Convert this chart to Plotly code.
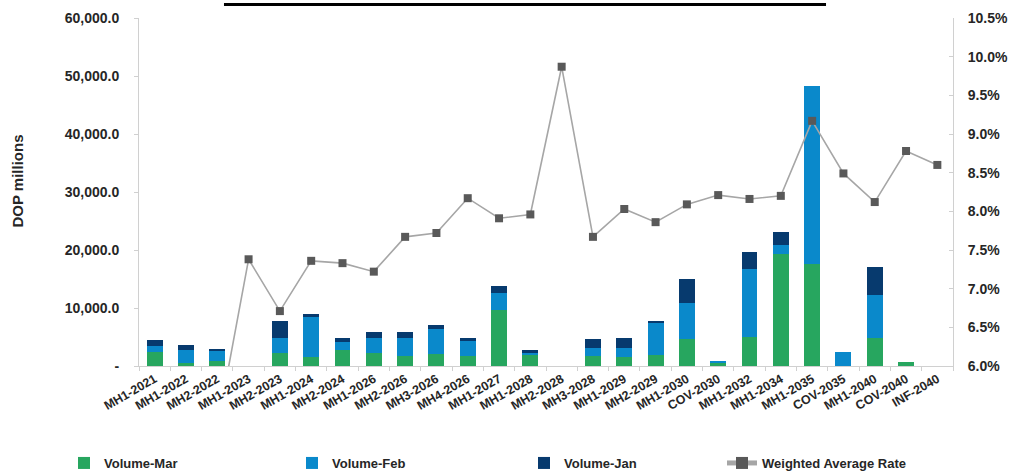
import plotly.graph_objects as go

categories = ["MH1-2021", "MH1-2022", "MH2-2022", "MH1-2023", "MH2-2023", "MH1-2024",
              "MH2-2024", "MH1-2026", "MH2-2026", "MH3-2026", "MH4-2026", "MH1-2027",
              "MH1-2028", "MH2-2028", "MH3-2028", "MH1-2029", "MH2-2029", "MH1-2030",
              "COV-2030", "MH1-2032", "MH1-2034", "MH1-2035", "COV-2035", "MH1-2040",
              "COV-2040", "INF-2040"]

volume_mar = [2400, 600, 900, 0, 2300, 1500, 2760, 2300, 1780, 2130, 1670, 9650, 2010, 0,
              1720, 1490, 1950, 4660, 570, 5060, 19310, 17590, 0, 4890, 750, 0]
volume_feb = [1100, 2200, 1700, 0, 2470, 6900, 1440, 2590, 3100, 4190, 2700, 2880, 290, 0,
              1380, 1610, 5580, 6150, 350, 11610, 1550, 30740, 2360, 7350, 0, 0]
volume_jan = [1000, 850, 270, 0, 3000, 570, 690, 970, 1030, 690, 520, 1320, 400, 0,
              1550, 1720, 100, 4140, 0, 2990, 2300, 0, 0, 4770, 0, 0]
weighted_rate = [None, None, 5.2, 7.38, 6.71, 7.36, 7.33, 7.22, 7.67, 7.72, 8.17, 7.91,
                 7.96, 9.87, 7.67, 8.03, 7.86, 8.09, 8.21, 8.16, 8.20, 9.17, 8.49, 8.12,
                 8.78, 8.60]

left_tickvals = [0, 10000, 20000, 30000, 40000, 50000, 60000]
left_ticktext = ["-", "10,000.0", "20,000.0", "30,000.0", "40,000.0", "50,000.0", "60,000.0"]
right_tickvals = [6.0, 6.5, 7.0, 7.5, 8.0, 8.5, 9.0, 9.5, 10.0, 10.5]
right_ticktext = ["6.0%", "6.5%", "7.0%", "7.5%", "8.0%", "8.5%", "9.0%", "9.5%", "10.0%", "10.5%"]

FONT = "Liberation Sans, Arial, sans-serif"
TXT = "#262626"
AX = "#D0D0D0"

fig = go.Figure()
fig.add_trace(go.Bar(x=categories, y=volume_mar, name="Volume-Mar", marker_color="#27A65F",
                     marker_line_width=0, legend="legend"))
fig.add_trace(go.Bar(x=categories, y=volume_feb, name="Volume-Feb", marker_color="#0A89CB",
                     marker_line_width=0, legend="legend2"))
fig.add_trace(go.Bar(x=categories, y=volume_jan, name="Volume-Jan", marker_color="#073A6E",
                     marker_line_width=0, legend="legend3"))
fig.add_trace(go.Scatter(x=categories, y=weighted_rate, name="Weighted Average Rate",
                         yaxis="y2", mode="lines+markers", connectgaps=False,
                         line=dict(color="#A6A6A6", width=1.6),
                         marker=dict(symbol="square", size=8, color="#595959"),
                         legend="legend4"))


def leg(xpx):
    return dict(orientation="h", xref="container", yref="container",
                x=xpx / 1011, xanchor="left", y=(476 - 463) / 476, yanchor="middle",
                font=dict(size=13, family=FONT, color=TXT, weight="bold"),
                itemsizing="constant", bgcolor="rgba(0,0,0,0)")


fig.update_layout(
    width=1011, height=476,
    margin=dict(l=139, r=58, t=18, b=110, autoexpand=False),
    barmode="stack", bargap=0.49,
    plot_bgcolor="white", paper_bgcolor="white",
    font=dict(family=FONT, color=TXT, size=13, weight="bold"),
    showlegend=True,
    legend=leg(64),
    legend2=leg(292),
    legend3=leg(524),
    legend4=leg(722),
    xaxis=dict(type="category", tickangle=-30, showline=True, linecolor=AX, linewidth=1,
               range=[-0.5, len(categories) - 0.5],
               ticks="outside", tickson="boundaries", ticklen=4, tickcolor=AX,
               tickfont=dict(size=12.5, family=FONT, color=TXT, weight="bold"),
               showgrid=False, zeroline=False, automargin=False),
    yaxis=dict(range=[0, 60000], tickmode="array", tickvals=left_tickvals,
               ticktext=left_ticktext, showline=True, linecolor=AX, linewidth=1,
               ticks="outside", ticklen=4, tickcolor=AX, showgrid=False, zeroline=False,
               ticklabelstandoff=12,
               tickfont=dict(size=14, family=FONT, color=TXT, weight="bold"),
               automargin=False),
    yaxis2=dict(range=[6.0, 10.5], overlaying="y", side="right", tickmode="array",
                tickvals=right_tickvals, ticktext=right_ticktext,
                showline=True, linecolor=AX, linewidth=1, ticks="inside", ticklen=4,
                tickcolor=AX, showgrid=False, zeroline=False, ticklabelstandoff=11,
                tickfont=dict(size=14, family=FONT, color=TXT, weight="bold"),
                automargin=False),
)

fig.add_annotation(text="DOP millions", xref="paper", yref="paper", x=-0.1486, y=0.53,
                   textangle=-90, showarrow=False, xanchor="center", yanchor="middle",
                   font=dict(size=15, family=FONT, color=TXT, weight="bold"))

fig.add_shape(type="line", xref="paper", yref="paper", x0=0.1044, x1=0.844,
              y0=1 + (18 - 4.5) / 348, y1=1 + (18 - 4.5) / 348,
              line=dict(color="black", width=3))

fig.write_html("out.html")
